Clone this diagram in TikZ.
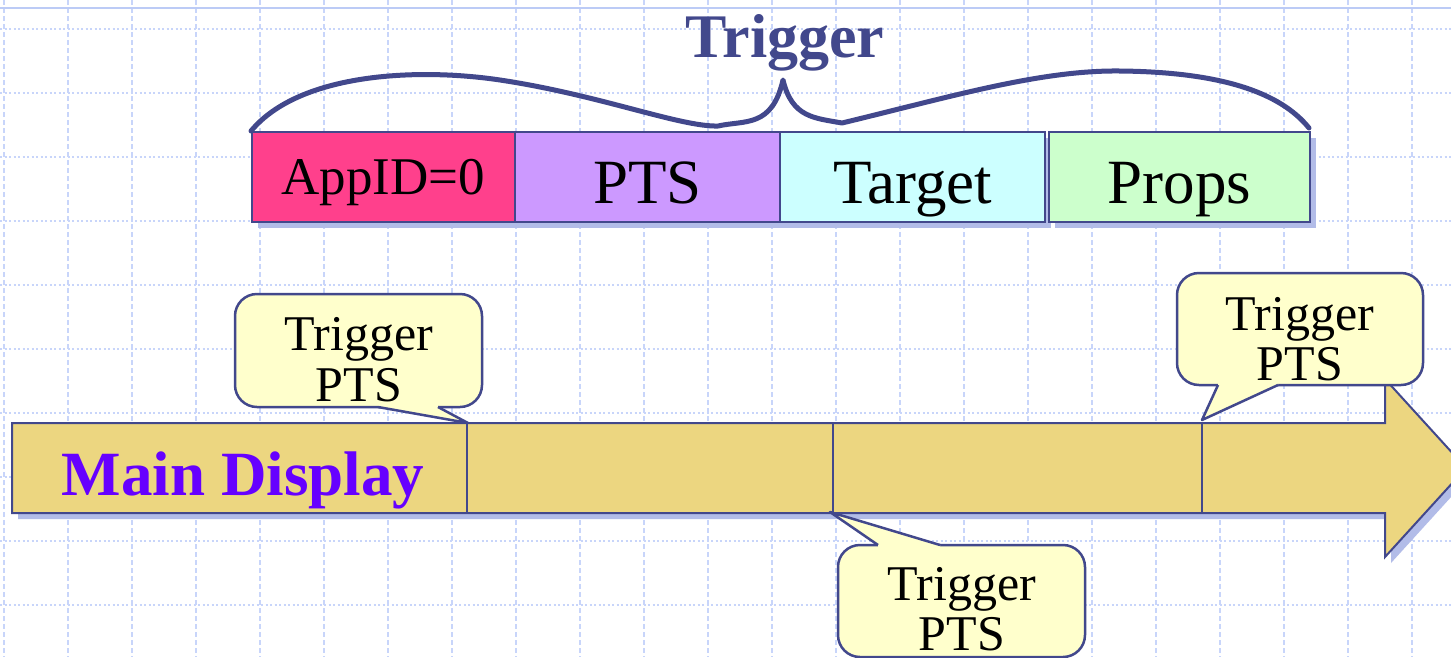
\documentclass[tikz,border=0pt]{standalone}
\usepackage{fontspec}
\setmainfont{Liberation Serif}
\usetikzlibrary{shadows}
\definecolor{gridc}{RGB}{200,213,250}
\definecolor{topc}{RGB}{188,203,246}
\definecolor{linec}{RGB}{66,72,140}
\definecolor{shadowc}{RGB}{178,188,232}
\definecolor{appc}{RGB}{255,64,140}
\definecolor{ptsc}{RGB}{204,153,255}
\definecolor{tgtc}{RGB}{204,255,255}
\definecolor{propc}{RGB}{204,255,204}
\definecolor{barc}{RGB}{236,214,128}
\definecolor{calc}{RGB}{255,255,204}
\definecolor{mainc}{RGB}{102,0,255}
\begin{document}
\begin{tikzpicture}[x=1pt,y=-1pt,
  gridv/.style={gridc, line width=1.6pt, dash pattern=on 5pt off 3pt},
  gridh/.style={gridc, line width=1.6pt, dash pattern=on 2pt off 2.5pt},
  topline/.style={topc, line width=2.4pt},
  shadowed/.style={drop shadow={shadow xshift=6pt, shadow yshift=-6pt, fill=shadowc, opacity=1}},
  field/.style={draw=linec, line width=2pt, inner sep=0pt, minimum height=90pt,
    anchor=north west, font=\fontsize{63}{63}\selectfont, text height=52pt, text depth=0pt, shadowed},
  bubble/.style={draw=linec, line width=2.5pt, fill=calc, rounded corners=22pt, inner sep=0pt},
  bubtext/.style={font=\fontsize{50}{50}\selectfont, anchor=base, inner sep=0pt},
  ptrline/.style={draw=linec, line width=2.5pt, line join=round},
  bracestyle/.style={draw=linec, line width=5pt, line cap=round, line join=round},
]
\useasboundingbox (0,0) rectangle (1451,657);
\clip (0,0) rectangle (1451,657);
\fill[white] (0,0) rectangle (1451,657);
% grid
\foreach \i in {0,...,22} \draw[gridv] (4+64*\i,0) -- (4+64*\i,657);
\foreach \j in {0,...,9} \draw[gridh] (0,29+64*\j) -- (1451,29+64*\j);
\draw[topline] (0,8) -- (1451,8);

% title and brace
\node[font=\bfseries\fontsize{62}{62}\selectfont, text=linec, anchor=base, inner sep=0pt] (title) at (785,57) {Trigger};
\draw[bracestyle] (251,131) .. controls (300,72) and (420,68) .. (500,80)
  .. controls (600,95) and (680,127) .. (718,126)
  .. controls (745,120) and (772,128) .. (783,80)
  .. controls (792,118) and (815,118) .. (842,123)
  .. controls (950,97) and (1040,70) .. (1120,71)
  .. controls (1220,72) and (1280,92) .. (1309,128);

% fields
\node[field, fill=appc, minimum width=263pt, text height=35pt, font=\fontsize{53}{53}\selectfont] (app) at (251,131) {AppID=0};
\node[field, fill=ptsc, minimum width=265pt] (pts) at (514,131) {PTS};
\node[field, fill=tgtc, minimum width=265pt] (tgt) at (779,131) {Target};
\node[field, fill=propc, minimum width=261pt] (props) at (1048,131) {Props};

% main display arrow
\coordinate (a1) at (12,423);
\coordinate (a2) at (1385,423);
\coordinate (a3) at (1385,379);
\coordinate (a4) at (1466,468);
\coordinate (a5) at (1385,557);
\coordinate (a6) at (1385,513);
\coordinate (a7) at (12,513);
\path[draw=linec, line width=2pt, fill=barc, shadowed] (a1) -- (a2) -- (a3) -- (a4) -- (a5) -- (a6) -- (a7) -- cycle;
\coordinate (d1t) at (467,423); \coordinate (d1b) at (467,513);
\coordinate (d2t) at (833,423); \coordinate (d2b) at (833,513);
\coordinate (d3t) at (1202,423); \coordinate (d3b) at (1202,513);
\draw[linec, line width=2pt] (d1t) -- (d1b);
\draw[linec, line width=2pt] (d2t) -- (d2b);
\draw[linec, line width=2pt] (d3t) -- (d3b);
\node[font=\bfseries\fontsize{63}{63}\selectfont, text=mainc, anchor=base, inner sep=0pt] (main) at (243,495) {Main Display};

% callout 1
\node[bubble, minimum width=247pt, minimum height=113pt] (cb1) at (358.5,350.5) {};
\coordinate (p1l) at (378,407); \coordinate (p1t) at (468,423); \coordinate (p1r) at (438,407);
\fill[calc] (p1l) -- (p1t) -- (p1r) -- (438,403) -- (378,403) -- cycle;
\draw[ptrline] (p1l) -- (p1t) -- (p1r);
\node[bubtext] (t1a) at (359,350) {Trigger};
\node[bubtext] (t1b) at (359,401) {PTS};

% callout 2
\node[bubble, minimum width=246pt, minimum height=112pt] (cb2) at (1300,329) {};
\coordinate (p2l) at (1218,385); \coordinate (p2t) at (1202,420); \coordinate (p2r) at (1278,385);
\fill[calc] (p2l) -- (p2t) -- (p2r) -- (1278,381) -- (1218,381) -- cycle;
\draw[ptrline] (p2l) -- (p2t) -- (p2r);
\node[bubtext] (t2a) at (1300,330) {Trigger};
\node[bubtext] (t2b) at (1300,380) {PTS};

% callout 3
\node[bubble, minimum width=247pt, minimum height=112pt] (cb3) at (961.5,601) {};
\coordinate (p3l) at (878,545); \coordinate (p3t) at (830,512); \coordinate (p3r) at (940,545);
\fill[calc] (p3l) -- (p3t) -- (p3r) -- (940,549) -- (878,549) -- cycle;
\draw[ptrline] (p3l) -- (p3t) -- (p3r);
\node[bubtext] (t3a) at (962,600) {Trigger};
\node[bubtext] (t3b) at (962,650) {PTS};
\end{tikzpicture}
\end{document}
